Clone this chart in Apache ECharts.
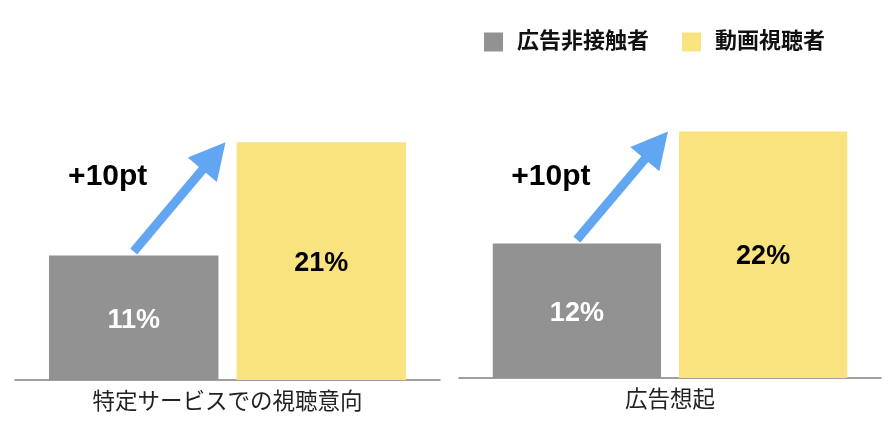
<!DOCTYPE html>
<html>
<head>
<meta charset="utf-8">
<script src="https://cdn.jsdelivr.net/npm/echarts@6/dist/echarts.min.js"></script>
<style>html,body{margin:0;padding:0;background:#fff;}#c{width:894px;height:433px;}</style>
</head>
<body>
<div id="c"></div>
<script>
const categories = ['特定サービスでの視聴意向', '広告想起'];
const seriesNames = ['広告非接触者', '動画視聴者'];
const nonContact = [11, 12];
const viewers = [21, 22];
const deltaLabelLevel = 18;

const FONT = "'Liberation Sans', 'Noto Sans CJK JP', sans-serif";
const GRAY = '#929292';
const YELLOW = '#f9e37f';
const BLUE = '#62a6f2';
const CAT_GAP = 0.16, BAR_GAP = 0.107;

const chart = echarts.init(document.getElementById('c'), null, {renderer: 'canvas'});

function arrowItem(params, api) {
  const g = api.value(1), y = api.value(2);
  const band = api.size([1, 0])[0];
  const bw = band * (1 - CAT_GAP) / (2 + BAR_GAP);
  const cx = api.coord([0, 0])[0];
  const grayX = cx - bw * (1 + BAR_GAP) / 2;
  const tail = [grayX, api.coord([0, g + 0.35])[1]];
  const tip = [cx - 2, api.coord([0, y])[1]];
  const dx = tip[0] - tail[0], dy = tip[1] - tail[1];
  const L = Math.sqrt(dx * dx + dy * dy);
  const ux = dx / L, uy = dy / L, nx = -uy, ny = ux;
  const hl = 36, hw = 19, sw = 4.5;
  const bx = tip[0] - ux * hl, by = tip[1] - uy * hl;
  const pts = [
    [tail[0] + nx * sw, tail[1] + ny * sw],
    [bx + nx * sw, by + ny * sw],
    [bx + nx * hw, by + ny * hw],
    tip,
    [bx - nx * hw, by - ny * hw],
    [bx - nx * sw, by - ny * sw],
    [tail[0] - nx * sw, tail[1] - ny * sw]
  ];
  return {
    type: 'group',
    children: [
      {type: 'polygon', shape: {points: pts}, style: {fill: BLUE}},
      {type: 'text', x: grayX - 26, y: api.coord([0, deltaLabelLevel])[1],
       style: {text: '+' + (y - g) + 'pt', fill: '#000', font: 'bold 30px ' + FONT,
               align: 'center', verticalAlign: 'middle'}}
    ]
  };
}

const grids = [
  {left: 15, width: 425, top: 97, height: 283},
  {left: 459, width: 422, top: 98, height: 280}
];

const xAxes = categories.map((c, i) => ({
  type: 'category', gridIndex: i, data: [c],
  axisLine: {lineStyle: {color: '#808080', width: 1.5}},
  axisTick: {show: false},
  axisLabel: {fontSize: 22.5, color: '#222', margin: 12, fontFamily: FONT}
}));
const yAxes = categories.map((c, i) => ({
  type: 'value', gridIndex: i, min: 0, max: 25, show: false, splitLine: {show: false}
}));

const series = [];
categories.forEach((c, i) => {
  series.push({
    name: seriesNames[0], type: 'bar', xAxisIndex: i, yAxisIndex: i,
    data: [nonContact[i]], barGap: (BAR_GAP * 100) + '%', barCategoryGap: (CAT_GAP * 100) + '%',
    itemStyle: {color: GRAY},
    label: {show: true, position: 'inside', formatter: '{c}%', color: '#fff',
            fontSize: 27, fontWeight: 'bold', fontFamily: FONT, offset: [0, 3]},
    emphasis: {disabled: true}
  });
  series.push({
    name: seriesNames[1], type: 'bar', xAxisIndex: i, yAxisIndex: i,
    data: [viewers[i]], barGap: (BAR_GAP * 100) + '%', barCategoryGap: (CAT_GAP * 100) + '%',
    itemStyle: {color: YELLOW},
    label: {show: true, position: 'inside', formatter: '{c}%', color: '#000',
            fontSize: 27, fontWeight: 'bold', fontFamily: FONT, offset: [0, 2]},
    emphasis: {disabled: true}
  });
  series.push({
    type: 'custom', xAxisIndex: i, yAxisIndex: i,
    data: [[0, nonContact[i], viewers[i]]],
    encode: {x: 0, y: 1},
    renderItem: arrowItem, silent: true, z: 5
  });
});

chart.setOption({
  animation: false,
  backgroundColor: '#fff',
  legend: {
    data: seriesNames, right: 64, top: 26, icon: 'rect',
    itemWidth: 19, itemHeight: 19, itemGap: 33,
    textStyle: {fontSize: 22, fontWeight: 'bold', color: '#111', fontFamily: FONT, padding: [0, 0, 0, 9]}
  },
  grid: grids,
  xAxis: xAxes,
  yAxis: yAxes,
  series: series
});
</script>
</body>
</html>
